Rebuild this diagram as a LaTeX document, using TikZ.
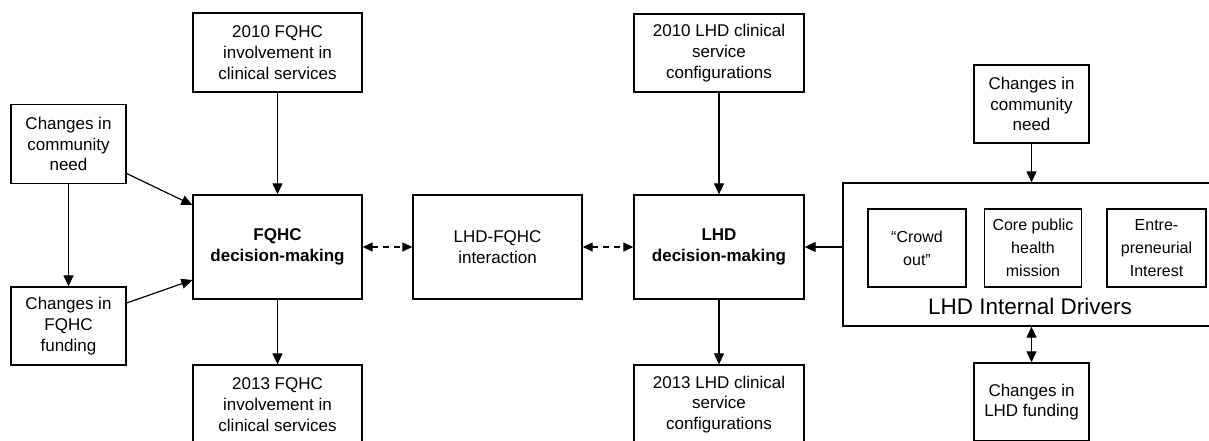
\documentclass[tikz,border=0pt]{standalone}
\usepackage{fontspec}
\setmainfont{Liberation Sans}
\usetikzlibrary{arrows.meta,calc}
\begin{document}
\begin{tikzpicture}[x=1pt,y=-1pt,
  box/.style={draw=black,line width=1.3pt,inner sep=0pt,align=center,
    font=\fontsize{17}{20.7}\selectfont},
  inbox/.style={draw=black,line width=1.3pt,inner sep=0pt,align=center,
    font=\fontsize{16}{23}\selectfont},
  arr/.style={line width=1.2pt,-{Triangle[length=11pt,width=10pt]}},
  darr/.style={line width=1.2pt,{Triangle[length=11pt,width=10pt]}-{Triangle[length=11pt,width=10pt]}},
  dasharr/.style={line width=1.2pt,dash pattern=on 6pt off 5pt,
    {Triangle[length=10pt,width=9pt]}-{Triangle[length=10pt,width=9pt]}}
]
\useasboundingbox (0,0) rectangle (1209,440);
\fill[white] (0,0) rectangle (1209,440);

\node[box,minimum width=169pt,minimum height=79pt] (fq10) at (277.5,52.5) {2010 FQHC\\involvement in\\clinical services};
\node[box,minimum width=170pt,minimum height=78pt] (lhd10) at (719,53) {2010 LHD clinical\\service\\configurations};
\node[box,minimum width=115pt,minimum height=79pt] (ccnL) at (68.5,144) {Changes in\\community\\need};
\node[box,minimum width=115pt,minimum height=78pt] (fqfund) at (68.5,326) {Changes in\\FQHC\\funding};
\node[box,minimum width=169pt,minimum height=104pt] (fqdec) at (277.5,247) {\bfseries FQHC\\\bfseries decision-making};
\node[box,minimum width=169pt,minimum height=104pt] (inter) at (497.5,247) {LHD-FQHC\\interaction};
\node[box,minimum width=170pt,minimum height=104pt] (lhddec) at (719,247) {\bfseries LHD\\\bfseries decision-making};
\node[box,minimum width=169pt,minimum height=79pt] (fq13) at (277.5,404.5) {2013 FQHC\\involvement in\\clinical services};
\node[box,minimum width=170pt,minimum height=79pt] (lhd13) at (719,404.5) {2013 LHD clinical\\service\\configurations};

\node[box,minimum width=115pt,minimum height=78pt] (ccnR) at (1031.5,104) {Changes in\\community\\need};
\node[box,minimum width=377pt,minimum height=143pt] (big) at (1031.5,254.5) {};
\node[inbox,minimum width=98pt,minimum height=78pt] (crowd) at (917,248) {``Crowd\\out''};
\node[inbox,minimum width=97pt,minimum height=78pt] (core) at (1033,248) {Core public\\health\\mission};
\node[inbox,minimum width=99pt,minimum height=78pt] (entre) at (1156.5,248) {Entre-\\preneurial\\Interest};
\node[font=\fontsize{22.5}{26}\selectfont,inner sep=0pt] (drv) at (1030,306) {LHD Internal Drivers};
\node[box,minimum width=115pt,minimum height=78pt] (lhdfund) at (1031.5,402) {Changes in\\LHD funding};

\draw[arr] (fq10.south) -- (fqdec.north);
\draw[arr] (lhd10.south) -- (lhddec.north);
\draw[arr] (fqdec.south) -- (fq13.north);
\draw[arr] (lhddec.south) -- (lhd13.north);
\draw[arr] (ccnL.south) -- (fqfund.north);
\draw[arr] ([yshift=-29.5pt]ccnL.east) -- ([yshift=42pt]fqdec.west);
\draw[arr] ([yshift=23pt]fqfund.east) -- ([yshift=-33pt]fqdec.west);
\draw[dasharr] (fqdec.east) -- (inter.west);
\draw[dasharr] (inter.east) -- (lhddec.west);
\draw[arr] (big.west |- lhddec.east) -- (lhddec.east);
\draw[arr] (ccnR.south) -- (big.north);
\draw[darr] (big.south) -- (lhdfund.north);
\end{tikzpicture}
\end{document}
